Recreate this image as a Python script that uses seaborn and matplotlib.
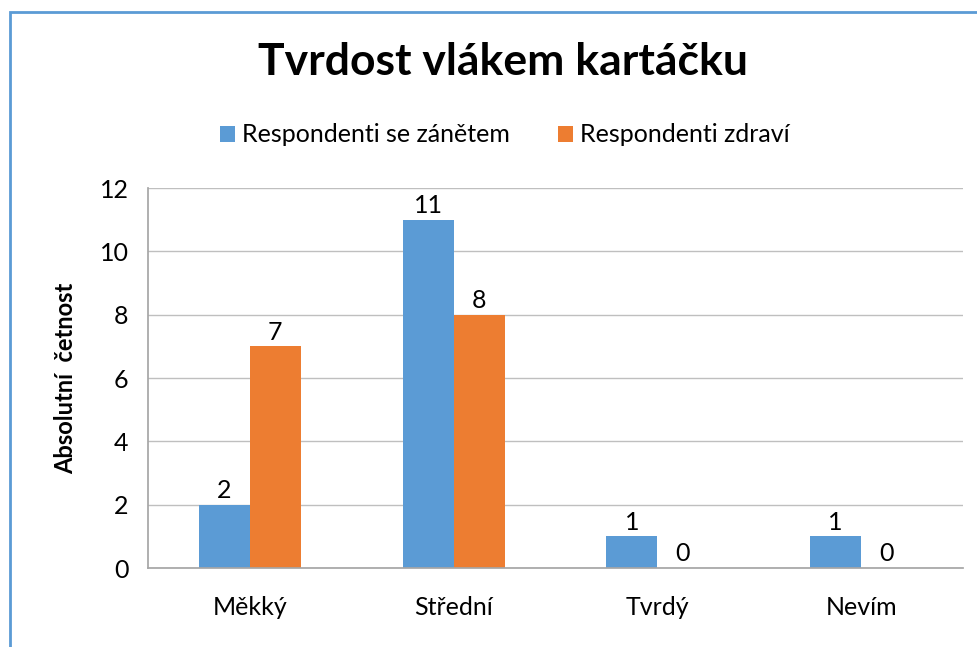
import matplotlib
matplotlib.use("Agg")
import matplotlib.pyplot as plt
import seaborn as sns
import pandas as pd
from matplotlib.patches import Rectangle, Patch

categories = ["Měkký", "Střední", "Tvrdý", "Nevím"]
series_names = ["Respondenti se zánětem", "Respondenti zdraví"]
inflamed = [2, 11, 1, 1]
healthy = [7, 8, 0, 0]
yticks = [0, 2, 4, 6, 8, 10, 12]
colors = ["#5B9BD5", "#ED7D31"]

df = pd.DataFrame({
    "kategorie": categories * 2,
    "skupina": [series_names[0]] * 4 + [series_names[1]] * 4,
    "hodnota": inflamed + healthy,
})

sns.set_theme(style="white")
plt.rcParams["font.family"] = ["Lato", "DejaVu Sans"]
plt.rcParams["text.color"] = "black"
plt.rcParams["axes.labelcolor"] = "black"
plt.rcParams["xtick.color"] = "black"
plt.rcParams["ytick.color"] = "black"

W, H = 978, 647
fig = plt.figure(figsize=(W / 100, H / 100), dpi=100)
ax = fig.add_axes([148 / W, (H - 568) / H, (963 - 148) / W, (568 - 188) / H])

sns.barplot(data=df, x="kategorie", y="hodnota", hue="skupina", order=categories,
            hue_order=series_names, palette=colors, width=0.5, ax=ax,
            saturation=1, edgecolor="none", linewidth=0, legend=False)

ax.set_ylim(0, 12)
ax.set_yticks(yticks)
ax.set_yticklabels([str(t) for t in yticks], fontsize=18)
ax.set_xlim(-0.5, 3.5)
ax.tick_params(axis="x", labelsize=18, length=0, pad=20)
ax.tick_params(axis="y", length=0, pad=14)
ax.yaxis.grid(True, color="#BFBFBF", linewidth=1)
ax.set_axisbelow(True)
for s in ["top", "right"]:
    ax.spines[s].set_visible(False)
ax.spines["left"].set_color("#A6A6A6")
ax.spines["bottom"].set_color("#A6A6A6")
ax.set_xlabel("")
ax.set_ylabel("Absolutní  četnost", fontsize=17, fontweight="bold", labelpad=16)

for cont in ax.containers:
    ax.bar_label(cont, fontsize=18, padding=2, color="black")

handles = [Patch(facecolor=c, edgecolor="none") for c in colors]
fig.legend(handles, series_names, loc="center", bbox_to_anchor=(505 / W, (H - 135) / H),
           ncol=2, frameon=False, fontsize=18, handlelength=0.6, handleheight=0.6,
           handletextpad=0.3, columnspacing=1.9)

fig.text(503 / W, (H - 62) / H, "Tvrdost vlákem kartáčku", ha="center", va="center",
         fontsize=32, fontweight="bold", color="black")

fig.patches.append(Rectangle((10 / W, -0.1), 1.2, (H - 12) / H + 0.1,
                             transform=fig.transFigure, fill=False,
                             edgecolor="#5B9BD5", linewidth=2, figure=fig))

fig.savefig("out.png", dpi=100)
